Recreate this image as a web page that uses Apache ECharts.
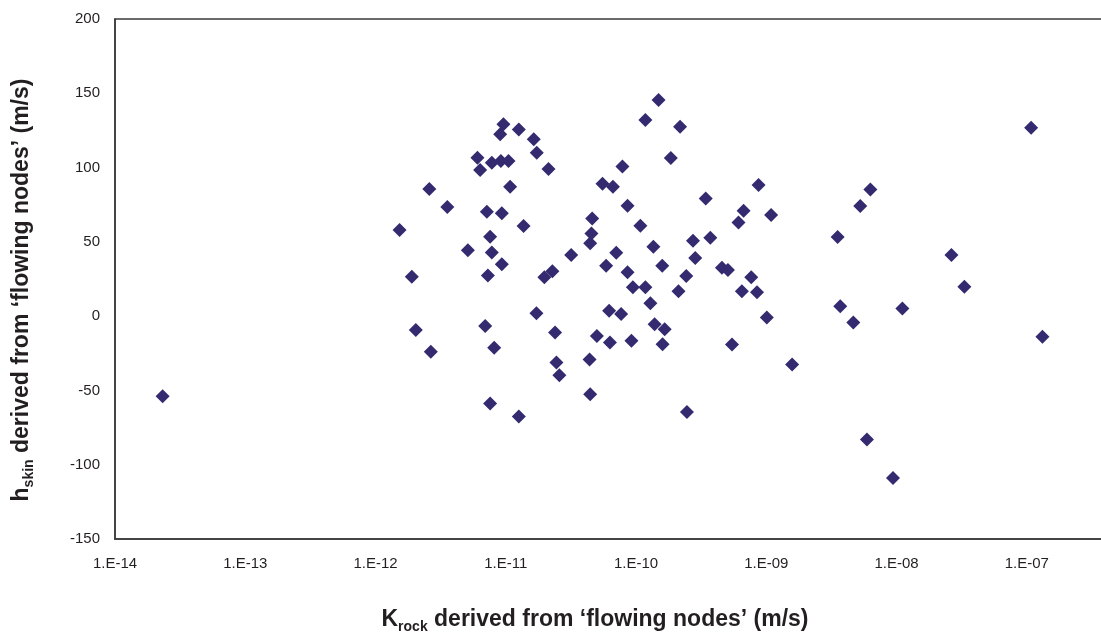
<!DOCTYPE html>
<html>
<head>
<meta charset="utf-8">
<script src="https://cdn.jsdelivr.net/npm/echarts@6/dist/echarts.min.js"></script>
<style>
html,body{margin:0;padding:0;background:#fff;}
#chart{width:1101px;height:637px;}
</style>
</head>
<body>
<div id="chart"></div>
<script>
// K_rock values (m/s)
var kRock = [
  2.32e-14, 1.53e-12, 1.90e-12, 2.04e-12, 2.66e-12, 2.59e-12, 3.56e-12, 5.12e-12, 6.06e-12, 6.36e-12,
  7.16e-12, 7.59e-12, 7.82e-12, 7.29e-12, 6.95e-12, 8.15e-12, 7.59e-12, 7.82e-12, 9.06e-12, 9.60e-12,
  9.17e-12, 1.05e-11, 9.33e-12, 9.33e-12, 1.08e-11, 1.26e-11, 1.26e-11, 1.37e-11, 1.64e-11, 1.73e-11,
  2.13e-11, 1.72e-11, 1.98e-11, 2.28e-11, 2.39e-11, 2.45e-11, 2.58e-11, 3.18e-11, 4.45e-11, 4.55e-11,
  4.61e-11, 4.40e-11, 4.45e-11, 5.01e-11, 5.53e-11, 5.90e-11, 6.22e-11, 6.31e-11, 6.65e-11, 7.05e-11,
  7.69e-11, 7.87e-11, 8.61e-11, 8.61e-11, 9.23e-11, 9.46e-11, 1.08e-10, 1.18e-10, 1.18e-10, 1.29e-10,
  1.36e-10, 1.39e-10, 1.49e-10, 1.59e-10, 1.60e-10, 1.66e-10, 1.85e-10, 2.12e-10, 2.18e-10, 2.43e-10,
  2.46e-10, 2.74e-10, 2.85e-10, 3.43e-10, 3.72e-10, 4.57e-10, 5.08e-10, 5.46e-10, 6.12e-10, 6.70e-10,
  6.50e-10, 7.67e-10, 8.49e-10, 8.73e-10, 1.01e-9, 1.09e-9, 1.58e-9, 3.53e-9, 3.70e-9, 4.66e-9,
  5.27e-9, 5.93e-9, 6.30e-9, 9.40e-9, 1.11e-8, 2.64e-8, 3.32e-8, 1.08e-7, 1.32e-7
];
// h_skin values (m/s)
var hSkin = [
  -54, 58, 26.5, -9.4, -24, 85.5, 73.4, 44.4, 106.6, 98.3,
  70.2, 53.4, 42.9, 27.4, -6.7, -21.3, -58.8, 103.2, 122.4, 129.1,
  104.4, 104.4, 69.2, 35, 87.1, 125.7, -67.5, 60.6, 119, 110,
  99, 2, 26.1, 30.3, -11, -31.2, -39.7, 41.1, 49, 55.7,
  65.8, -29.2, -52.5, -13.3, 89.1, 33.9, 3.6, -17.7, 87.1, 42.6,
  1.5, 100.8, 74.3, 29.6, -16.6, 19.5, 60.8, 132, 19.5, 8.6,
  46.7, -5.4, 145.5, 33.9, -18.9, -8.8, 106.4, 16.8, 127.5, 27.1,
  -64.6, 50.7, 39.1, 79.1, 52.7, 32.5, 31, -19.1, 63.1, 70.9,
  16.8, 26.1, 16, 88.2, -0.9, 68, -32.5, 53.2, 6.7, -4.2,
  74.1, -83, 85.3, -108.9, 5.2, 41.1, 19.7, 126.8, -13.9
];
var xTickLabels = ['1.E-14','1.E-13','1.E-12','1.E-11','1.E-10','1.E-09','1.E-08','1.E-07','1.E-06'];
var yTicks = [-150, -100, -50, 0, 50, 100, 150, 200];

var points = kRock.map(function (k, i) { return [k, hSkin[i]]; });

var FONT = "'Liberation Sans', Arial, sans-serif";
var TXT = '#231f20';
var LINE = '#3a3a3a';

var chart = echarts.init(document.getElementById('chart'), null, {renderer: 'canvas'});
chart.setOption({
  backgroundColor: '#ffffff',
  animation: false,
  grid: {
    left: 115, top: 19, right: -56, bottom: 98,
    containLabel: false,
    outerBoundsMode: 'none',
    show: true, borderColor: LINE, borderWidth: 1.5, backgroundColor: 'transparent'
  },
  xAxis: {
    type: 'log',
    logBase: 10,
    min: 1e-14,
    max: 1e-6,
    splitNumber: 8,
    axisLine: {show: true, onZero: false, lineStyle: {color: LINE, width: 1.5}},
    axisTick: {show: false},
    splitLine: {show: false},
    axisLabel: {
      fontFamily: FONT, fontSize: 15, color: TXT, margin: 17,
      formatter: function (v) {
        var e = Math.round(Math.log10(v));
        return xTickLabels[e + 14] || '';
      }
    }
  },
  yAxis: {
    type: 'value',
    min: yTicks[0],
    max: yTicks[yTicks.length - 1],
    interval: 50,
    axisLine: {show: true, lineStyle: {color: LINE, width: 1.5}},
    axisTick: {show: false},
    splitLine: {show: false},
    axisLabel: {fontFamily: FONT, fontSize: 15, color: TXT, margin: 15}
  },
  series: [{
    type: 'scatter',
    data: points,
    symbol: 'diamond',
    symbolSize: 14,
    itemStyle: {color: '#332a70', opacity: 1},
    clip: false
  }],
  graphic: [
    {
      type: 'text',
      x: 595, y: 620,
      style: {
        text: '{m|K}{s|rock}{m| derived from \u2018flowing nodes\u2019 (m/s)}',
        align: 'center', verticalAlign: 'middle',
        rich: {
          m: {fontFamily: FONT, fontSize: 23, fontWeight: 'bold', fill: TXT, lineHeight: 28},
          s: {fontFamily: FONT, fontSize: 14, fontWeight: 'bold', fill: TXT, lineHeight: 12, verticalAlign: 'bottom'}
        }
      }
    },
    {
      type: 'text',
      x: 22, y: 290,
      rotation: Math.PI / 2,
      style: {
        text: '{m|h}{s|skin}{m| derived from \u2018flowing nodes\u2019 (m/s)}',
        align: 'center', verticalAlign: 'middle',
        rich: {
          m: {fontFamily: FONT, fontSize: 23, fontWeight: 'bold', fill: TXT, lineHeight: 28},
          s: {fontFamily: FONT, fontSize: 14, fontWeight: 'bold', fill: TXT, lineHeight: 12, verticalAlign: 'bottom'}
        }
      }
    }
  ]
});
</script>
</body>
</html>
